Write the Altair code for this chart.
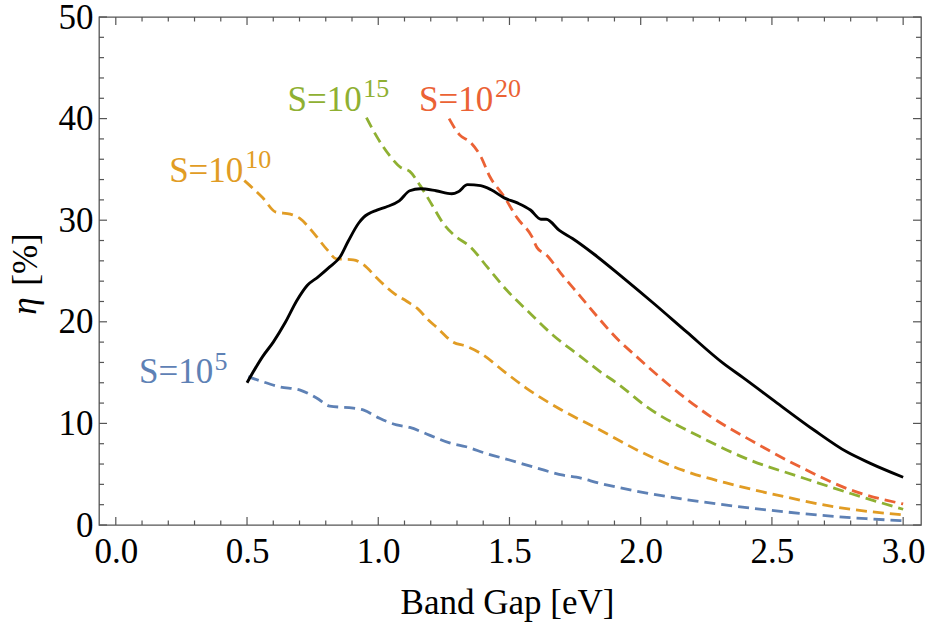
import altair as alt
import pandas as pd

SERIF = "Liberation Serif"

# Efficiency limit (black) versus band gap
bg_limit = [0.50, 0.56, 0.60, 0.645, 0.69, 0.73, 0.77, 0.815, 0.855, 0.885, 0.925, 0.945,
            0.995, 1.03, 1.08, 1.12, 1.16, 1.22, 1.28, 1.305, 1.34, 1.39, 1.43, 1.48, 1.53,
            1.58, 1.62, 1.64, 1.69, 1.74, 1.82, 1.93, 2.05, 2.175, 2.315, 2.39, 2.52, 2.66,
            2.785, 2.875, 3.0]
eta_limit = [14.0, 16.6, 18.0, 19.9, 22.1, 23.6, 24.4, 25.4, 26.4, 27.9, 29.7, 30.3,
             31.0, 31.3, 31.9, 32.9, 33.1, 32.9, 32.6, 32.8, 33.5, 33.4, 33.0, 32.2, 31.7,
             31.0, 30.1, 30.1, 29.0, 28.2, 26.7, 24.4, 21.8, 19.0, 15.9, 14.5, 12.0, 9.35,
             7.2, 6.07, 4.7]

# Concentration S = 10^5
bg_s5 = [0.505, 0.56, 0.625, 0.70, 0.765, 0.815, 0.905, 0.945, 1.005, 1.07, 1.12, 1.195,
         1.275, 1.335, 1.41, 1.50, 1.605, 1.705, 1.755, 1.845, 2.10, 2.355, 2.605, 2.86, 3.0]
eta_s5 = [14.6, 14.1, 13.6, 13.3, 12.5, 11.7, 11.5, 11.3, 10.5, 9.85, 9.6, 8.85,
          8.05, 7.7, 7.05, 6.4, 5.6, 4.9, 4.7, 4.1, 2.8, 1.87, 1.15, 0.62, 0.42]

# Concentration S = 10^10
bg_s10 = [0.49, 0.56, 0.61, 0.665, 0.70, 0.755, 0.805, 0.84, 0.905, 0.945, 0.995, 1.06,
          1.11, 1.15, 1.19, 1.225, 1.285, 1.335, 1.39, 1.48, 1.565, 1.70, 1.845, 2.0,
          2.16, 2.355, 2.545, 2.735, 3.0]
eta_s10 = [33.9, 32.2, 30.8, 30.6, 30.2, 28.7, 27.1, 26.2, 26.1, 25.6, 24.3, 22.8,
           22.0, 21.3, 20.2, 19.4, 18.0, 17.6, 16.9, 15.1, 13.45, 11.3, 9.35, 7.2,
           5.4, 3.95, 2.8, 1.8, 1.0]

# Concentration S = 10^15
bg_s15 = [0.955, 0.995, 1.045, 1.085, 1.12, 1.16, 1.205, 1.25, 1.295, 1.35, 1.415, 1.49,
          1.58, 1.665, 1.77, 1.845, 1.91, 2.025, 2.225, 2.415, 2.605, 2.80, 3.0]
eta_s15 = [40.1, 38.2, 36.3, 35.2, 34.8, 33.4, 31.5, 29.6, 28.4, 27.4, 25.4, 23.1,
           20.8, 18.7, 16.6, 15.1, 13.95, 11.6, 8.7, 6.4, 4.75, 3.1, 1.55]

# Concentration S = 10^20
bg_s20 = [1.27, 1.31, 1.35, 1.39, 1.425, 1.48, 1.53, 1.585, 1.605, 1.64, 1.695, 1.77,
          1.845, 1.915, 1.97, 2.10, 2.265, 2.415, 2.605, 2.80, 3.0]
eta_s20 = [40.0, 38.4, 37.7, 36.3, 34.3, 32.3, 30.2, 28.4, 27.3, 26.6, 24.8, 22.5,
           20.2, 18.2, 16.9, 13.95, 10.7, 8.4, 5.75, 3.45, 2.07]

series = ["S5", "S10", "S15", "S20"]
colors = ["#5E81B5", "#E19C24", "#8FB032", "#EB6235"]

# Curve labels: "S=10" with a raised exponent, placed in data coordinates
label_base = ["S=10", "S=10", "S=10", "S=10"]
label_exp = ["5", "10", "15", "20"]
label_x = [0.371, 0.486, 0.937, 1.438]
label_y = [13.98, 33.79, 40.78, 40.78]
exp_x = [0.376, 0.493, 0.943, 1.445]
exp_y = [15.3, 35.14, 42.1, 42.1]

# Frame tick positions
x_major = [0.0, 0.5, 1.0, 1.5, 2.0, 2.5, 3.0]
x_minor = [0.1, 0.2, 0.3, 0.4, 0.6, 0.7, 0.8, 0.9, 1.1, 1.2, 1.3, 1.4, 1.6, 1.7, 1.8,
           1.9, 2.1, 2.2, 2.3, 2.4, 2.6, 2.7, 2.8, 2.9]
y_major = [0, 10, 20, 30, 40, 50]
y_minor = [2, 4, 6, 8, 12, 14, 16, 18, 22, 24, 26, 28, 32, 34, 36, 38, 42, 44, 46, 48]

W, H = 822, 508
TICK = "#555555"

xs = alt.Scale(domain=[-0.064, 3.068], nice=False, zero=False)
ys = alt.Scale(domain=[0, 50], nice=False, zero=False)

rows = []
for name, bx, ey in zip(series, [bg_s5, bg_s10, bg_s15, bg_s20],
                        [eta_s5, eta_s10, eta_s15, eta_s20]):
    for i, (b, e) in enumerate(zip(bx, ey)):
        rows.append({"series": name, "bg": b, "eta": e, "i": i})
dashed_df = pd.DataFrame(rows)
limit_df = pd.DataFrame({"bg": bg_limit, "eta": eta_limit, "i": range(len(bg_limit))})

x_axis = alt.Axis(
    values=x_major, format=".1f", title="Band Gap [eV]",
    ticks=False, tickSize=0, domain=False, grid=False,
    labelFont=SERIF, labelFontSize=35, labelColor="black",
    labelPadding=37, labelBaseline="alphabetic", labelFlush=False, labelOverlap=False,
    titleFont=SERIF, titleFontSize=35, titleFontWeight="normal", titleColor="black",
    titleX=408, titleY=88, titleBaseline="alphabetic", titleAlign="center",
)
y_axis = alt.Axis(
    values=y_major, format="d", title="[%]",
    ticks=False, tickSize=0, domain=False, grid=False,
    labelFont=SERIF, labelFontSize=35, labelColor="black",
    labelPadding=6, labelBaseline="middle", labelFlush=False, labelOverlap=False,
    titleFont=SERIF, titleFontSize=35, titleFontWeight="normal", titleColor="black",
    titleAngle=270, titleX=-63, titleY=242, titleBaseline="alphabetic", titleAlign="center",
)


def X(field):
    return alt.X(field, scale=xs, axis=x_axis)


def Y(field):
    return alt.Y(field, scale=ys, axis=y_axis)


series_color = alt.Color("series:N", scale=alt.Scale(domain=series, range=colors), legend=None)

limit_line = alt.Chart(limit_df).mark_line(
    color="black", strokeWidth=2.9, interpolate="monotone"
).encode(x=X("bg:Q"), y=Y("eta:Q"), order="i:Q")

dashed_lines = alt.Chart(dashed_df).mark_line(
    strokeWidth=2.8, strokeDash=[11, 6], interpolate="monotone"
).encode(x=X("bg:Q"), y=Y("eta:Q"), color=series_color, order="i:Q")

lab_df = pd.DataFrame({"series": series, "base": label_base, "exp": label_exp,
                       "lx": label_x, "ly": label_y, "ex": exp_x, "ey": exp_y})

base_text = alt.Chart(lab_df).mark_text(
    font=SERIF, fontSize=35, align="right", baseline="alphabetic"
).encode(x=X("lx:Q"), y=Y("ly:Q"), text="base:N", color=series_color)

exp_text = alt.Chart(lab_df).mark_text(
    font=SERIF, fontSize=26, align="left", baseline="alphabetic"
).encode(x=X("ex:Q"), y=Y("ey:Q"), text="exp:N", color=series_color)

# Italic eta in front of the y-axis unit
eta_symbol = alt.Chart(pd.DataFrame({"t": ["η"]})).mark_text(
    font=SERIF, fontSize=35, fontStyle="italic", angle=270,
    align="center", baseline="alphabetic", color="black"
).encode(x=alt.value(-63), y=alt.value(289), text="t:N")

# Inward frame ticks on all four sides
xmaj = pd.DataFrame({"v": x_major})
xmin = pd.DataFrame({"v": x_minor})
ymaj = pd.DataFrame({"v": y_major})
ymin = pd.DataFrame({"v": y_minor})


def xticks(df, y0, y1):
    return alt.Chart(df).mark_rule(color=TICK, strokeWidth=1.2).encode(
        x=X("v:Q"), y=alt.value(y0), y2=alt.value(y1))


def yticks(df, x0, x1):
    return alt.Chart(df).mark_rule(color=TICK, strokeWidth=1.2).encode(
        y=Y("v:Q"), x=alt.value(x0), x2=alt.value(x1))


ticks = [
    xticks(xmaj, H, H - 8), xticks(xmin, H, H - 4.5),
    xticks(xmaj, 0, 8), xticks(xmin, 0, 4.5),
    yticks(ymaj, 0, 8), yticks(ymin, 0, 5),
    yticks(ymaj, W, W - 8), yticks(ymin, W, W - 5),
]

chart = alt.layer(
    dashed_lines, limit_line, base_text, exp_text, eta_symbol, *ticks
).properties(
    width=W, height=H,
    padding={"left": 99, "top": 17, "right": 9, "bottom": 100},
    autosize=alt.AutoSizeParams(type="none"),
    background="white",
).configure_view(
    stroke=TICK, strokeWidth=1.3
)

chart.save("out.html", embed_options={"renderer": "svg", "actions": False})
